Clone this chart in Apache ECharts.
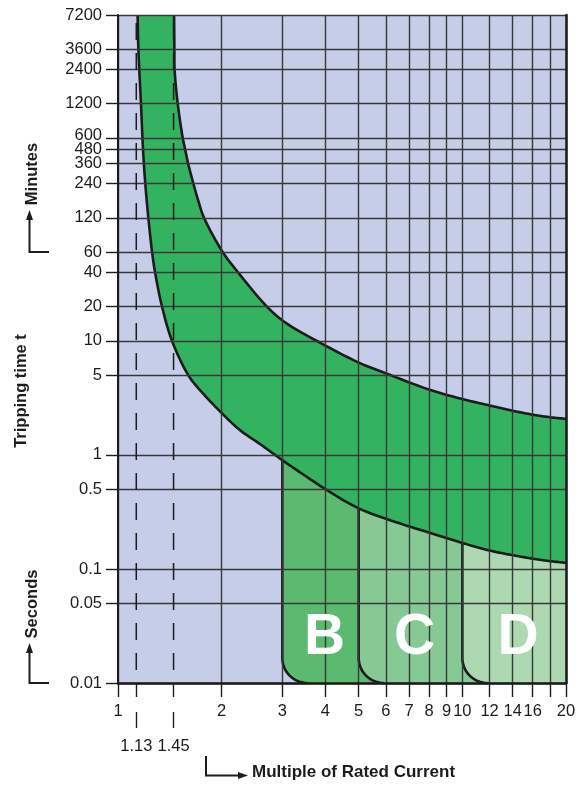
<!DOCTYPE html>
<html><head><meta charset="utf-8">
<script src="https://cdn.jsdelivr.net/npm/echarts@6/dist/echarts.min.js"></script>
<style>html,body{margin:0;padding:0;background:#fff}#c{width:578px;height:785px}</style>
</head><body><div id="c"></div>
<script>
// ---------- data ----------
const xTickValues = [1, 2, 3, 4, 5, 6, 7, 8, 9, 10, 12, 14, 16, 18, 20];
const xTickLabels = [1, 2, 3, 4, 5, 6, 7, 8, 9, 10, 12, 14, 16, 20];
const markerCurrents = [1.13, 1.45];
const yTickValues = [0.01, 0.05, 0.1, 0.5, 1, 5, 10, 20, 40, 60, 120, 240, 360, 480, 600, 1200, 2400, 3600, 7200];
const xMin = 1, xMax = 20, yMin = 0.01, yMax = 7200;

// lower / left boundary of the tripping band
const innerCurveX = [1.14, 1.146, 1.166, 1.182, 1.20, 1.225, 1.256, 1.281, 1.342, 1.435, 1.6, 1.73, 2.0, 2.26, 2.59, 3.0, 3.46, 4.05, 5.0, 6.6, 8.07, 10.0, 12, 14, 16, 18, 20];
const innerCurveY = [7200, 3600, 1200, 480, 240, 120, 60, 40, 20, 10, 5, 3.7, 2.33, 1.65, 1.24, 0.9, 0.67, 0.49, 0.34, 0.25, 0.207, 0.169, 0.145, 0.132, 0.123, 0.117, 0.113];
// upper / right boundary of the tripping band
const outerCurveX = [1.455, 1.458, 1.46, 1.491, 1.542, 1.566, 1.598, 1.655, 1.708, 1.778, 2.015, 2.23, 2.706, 3.04, 4.03, 5.06, 6.07, 8.07, 10.0, 12.08, 14, 16.2, 18, 20.0];
const outerCurveY = [7200, 3600, 2400, 1200, 600, 480, 360, 240, 172, 120, 60, 40, 20, 14.7, 9.0, 6.35, 5.12, 3.71, 3.09, 2.70, 2.44, 2.24, 2.14, 2.07];

const regionLabels = ['B', 'C', 'D'];
const regionStartX = [3, 5, 10];

// ---------- styles ----------
const FONT = '"Liberation Sans", Arial, Helvetica, sans-serif';
const INK = '#1c1c1c';
const GRID_LINE = '#383838';
const BG = '#c5cde8';
const BAND = '#33b35f';
const REGION_COLORS = ['#5bba70', '#86c994', '#acd9b2'];
const CORNER_R = 25;
const CURVE_W = 2.6;

const L = Math.log10;
const fmt = v => String(Math.round(Math.pow(10, v) * 1000) / 1000);

// centripetal Catmull-Rom rendering of a pixel polyline (smooth drawing only)
function smoothRender(P, n) {
  const out = [P[0]];
  const d = (a, b) => Math.max(Math.sqrt(Math.hypot(b[0] - a[0], b[1] - a[1])), 1e-4);
  for (let i = 0; i < P.length - 1; i++) {
    const p1 = P[i], p2 = P[i + 1];
    const p0 = i > 0 ? P[i - 1] : [2 * p1[0] - p2[0], 2 * p1[1] - p2[1]];
    const p3 = i + 2 < P.length ? P[i + 2] : [2 * p2[0] - p1[0], 2 * p2[1] - p1[1]];
    const t0 = 0, t1 = t0 + d(p0, p1), t2 = t1 + d(p1, p2), t3 = t2 + d(p2, p3);
    const lerp = (a, b, ta, tb, t) => [(tb - t) / (tb - ta) * a[0] + (t - ta) / (tb - ta) * b[0], (tb - t) / (tb - ta) * a[1] + (t - ta) / (tb - ta) * b[1]];
    for (let j = 1; j <= n; j++) {
      const t = t1 + (t2 - t1) * j / n;
      const A1 = lerp(p0, p1, t0, t1, t), A2 = lerp(p1, p2, t1, t2, t), A3 = lerp(p2, p3, t2, t3, t);
      const B1 = lerp(A1, A2, t0, t2, t), B2 = lerp(A2, A3, t1, t3, t);
      out.push(lerp(B1, B2, t1, t2, t));
    }
  }
  return out;
}
function curvePx(xs, ys, api) {
  return smoothRender(xs.map((x, i) => api.coord([L(x), L(ys[i])])), 10);
}
function fromPx(poly, px0) {
  for (let k = 0; k < poly.length - 1; k++) {
    const a = poly[k], b = poly[k + 1];
    if (a[0] <= px0 && b[0] >= px0) {
      const f = b[0] === a[0] ? 0 : (px0 - a[0]) / (b[0] - a[0]);
      return [[px0, a[1] + f * (b[1] - a[1])]].concat(poly.slice(k + 1));
    }
  }
  return poly.slice();
}

const chart = echarts.init(document.getElementById('c'), null, {renderer: 'canvas'});

const baseX = {
  type: 'value', min: L(xMin), max: L(xMax), position: 'bottom', z: 5,
  axisLine: {show: false, onZero: false}, splitLine: {show: false},
  axisTick: {show: false}, axisLabel: {show: false}
};
const labelStyle = {fontSize: 16.5, fontFamily: FONT, color: INK};

const option = {
  animation: false,
  grid: {left: 118, right: 12, top: 15, bottom: 102, show: true, backgroundColor: BG, borderWidth: 0, outerBoundsMode: 'none'},
  xAxis: [
    Object.assign({}, baseX, {
      axisLine: {show: true, onZero: false, lineStyle: {color: INK, width: 2.5}},
      axisTick: {show: true, length: 14, customValues: xTickValues.map(L), lineStyle: {color: INK, width: 1.4}},
      axisLabel: Object.assign({show: true, customValues: xTickLabels.map(L), formatter: fmt, margin: 20}, labelStyle),
      splitLine: {show: true, lineStyle: {color: GRID_LINE, width: 1.4}}
    }),
    Object.assign({}, baseX, {
      axisTick: {show: true, length: 14, customValues: markerCurrents.map(L), lineStyle: {color: INK, width: 1.4}}
    }),
    Object.assign({}, baseX, {
      offset: 29,
      axisTick: {show: true, length: 16, customValues: markerCurrents.map(L), lineStyle: {color: INK, width: 1.4}},
      axisLabel: Object.assign({show: true, customValues: markerCurrents.map(L), formatter: fmt, margin: 26}, labelStyle)
    })
  ],
  yAxis: [
    {
      type: 'value', min: L(yMin), max: L(yMax), position: 'left', z: 5,
      axisLine: {show: true, onZero: false, lineStyle: {color: INK, width: 2}},
      axisTick: {show: true, length: 12, customValues: yTickValues.map(L), lineStyle: {color: INK, width: 1.4}},
      axisLabel: Object.assign({show: true, customValues: yTickValues.map(L), margin: 16, hideOverlap: false,
        formatter: v => { const s = fmt(v); return s === '600' ? '{up|600}' : s; },
        rich: {up: Object.assign({padding: [0, 0, 6, 0]}, labelStyle)}}, labelStyle),
      splitLine: {show: true, lineStyle: {color: GRID_LINE, width: 1.4}}
    },
    {
      type: 'value', min: L(yMin), max: L(yMax), position: 'right', z: 6,
      axisLine: {show: true, onZero: false, lineStyle: {color: INK, width: 2.5}},
      axisTick: {show: false}, axisLabel: {show: false}, splitLine: {show: false}
    }
  ],
  series: [
    {
      name: 'band', type: 'custom', z: 2, xAxisIndex: 0, yAxisIndex: 0,
      data: [[L(innerCurveX[0]), L(innerCurveY[0])]],
      renderItem: function (params, api) {
        const a = curvePx(innerCurveX, innerCurveY, api);
        const b = curvePx(outerCurveX, outerCurveY, api).reverse();
        return {type: 'polygon', shape: {points: a.concat(b)}, style: {fill: BAND}};
      }
    },
    {
      name: 'regions', type: 'custom', z: 3, xAxisIndex: 0, yAxisIndex: 0,
      data: regionStartX.map((x, i) => [L(x), L(yMin), i]),
      renderItem: function (params, api) {
        const i = params.dataIndex;
        const x0 = regionStartX[i];
        const bl = api.coord([L(x0), L(yMin)]);
        const br = api.coord([L(xMax), L(yMin)]);
        const top = fromPx(curvePx(innerCurveX, innerCurveY, api), bl[0]);
        const edge = [top[0], [bl[0], bl[1] - CORNER_R]];
        const cx = bl[0] + CORNER_R, cy = bl[1] - CORNER_R;
        for (let s = 1; s <= 12; s++) {
          const t = (Math.PI / 2) * s / 12;
          edge.push([cx - CORNER_R * Math.cos(t), cy + CORNER_R * Math.sin(t)]);
        }
        const fillPts = edge.concat([br]).concat(top.slice().reverse());
        return {type: 'group', children: [
          {type: 'polygon', shape: {points: fillPts}, style: {fill: REGION_COLORS[i]}},
          {type: 'polyline', shape: {points: edge}, style: {fill: null, stroke: INK, lineWidth: CURVE_W}}
        ]};
      }
    },
    {
      name: 'curves', type: 'custom', z: 4, xAxisIndex: 0, yAxisIndex: 0,
      data: [[L(innerCurveX[0]), L(innerCurveY[0])]],
      renderItem: function (params, api) {
        return {type: 'group', children: [
          {type: 'polyline', shape: {points: curvePx(innerCurveX, innerCurveY, api)}, style: {fill: null, stroke: INK, lineWidth: CURVE_W, lineJoin: 'round'}},
          {type: 'polyline', shape: {points: curvePx(outerCurveX, outerCurveY, api)}, style: {fill: null, stroke: INK, lineWidth: CURVE_W, lineJoin: 'round'}}
        ]};
      }
    },
    {
      name: 'markers', type: 'custom', z: 6, xAxisIndex: 0, yAxisIndex: 0,
      data: markerCurrents.map(x => [L(x), L(yMin)]),
      renderItem: function (params, api) {
        const x = markerCurrents[params.dataIndex];
        const p0 = api.coord([L(x), L(yMin)]);
        const p1 = api.coord([L(x), L(yMax)]);
        return {type: 'line', shape: {x1: p0[0], y1: p0[1], x2: p1[0], y2: p1[1]},
          style: {stroke: INK, lineWidth: 1.5, lineDash: [17, 13], lineDashOffset: 17}};
      }
    },
    {
      name: 'regionLabels', type: 'custom', z: 10, xAxisIndex: 0, yAxisIndex: 0,
      data: regionStartX.map((x, i) => [L(x), L(yMin), i]),
      renderItem: function (params, api) {
        const i = params.dataIndex;
        const x0 = regionStartX[i];
        const x1 = i + 1 < regionStartX.length ? regionStartX[i + 1] : xMax;
        const a = api.coord([L(x0), L(yMin)]);
        const b = api.coord([L(x1), L(yMin)]);
        return {type: 'text', x: (a[0] + b[0]) / 2 + 4, y: a[1] - 45,
          style: {text: regionLabels[i], fill: '#ffffff', fontSize: 57, fontWeight: 'bold', fontFamily: FONT,
            align: 'center', verticalAlign: 'middle'}};
      }
    }
  ],
  graphic: [
    {type: 'text', x: 21, y: 391, rotation: Math.PI / 2, z: 10,
      style: {text: 'Tripping time t', fill: INK, fontSize: 16.5, fontWeight: 'bold', fontFamily: FONT, align: 'center', verticalAlign: 'middle'}},
    {type: 'text', x: 32, y: 174, rotation: Math.PI / 2, z: 10,
      style: {text: 'Minutes', fill: INK, fontSize: 16.5, fontWeight: 'bold', fontFamily: FONT, align: 'center', verticalAlign: 'middle'}},
    {type: 'text', x: 32.5, y: 604, rotation: Math.PI / 2, z: 10,
      style: {text: 'Seconds', fill: INK, fontSize: 16.5, fontWeight: 'bold', fontFamily: FONT, align: 'center', verticalAlign: 'middle'}},
    {type: 'text', x: 252, y: 772, z: 10,
      style: {text: 'Multiple of Rated Current', fill: INK, fontSize: 17, fontWeight: 'bold', fontFamily: FONT, align: 'left', verticalAlign: 'middle'}},
    {type: 'polyline', z: 10, shape: {points: [[49, 252], [29.5, 252], [29.5, 218]]}, style: {stroke: INK, lineWidth: 2, fill: null}},
    {type: 'polygon', z: 10, shape: {points: [[29.5, 210], [26, 220], [33, 220]]}, style: {fill: INK}},
    {type: 'polyline', z: 10, shape: {points: [[49, 683], [29.5, 683], [29.5, 651]]}, style: {stroke: INK, lineWidth: 2, fill: null}},
    {type: 'polygon', z: 10, shape: {points: [[29.5, 643], [26, 653], [33, 653]]}, style: {fill: INK}},
    {type: 'polyline', z: 10, shape: {points: [[206, 756], [206, 775.5], [240, 775.5]]}, style: {stroke: INK, lineWidth: 2, fill: null}},
    {type: 'polygon', z: 10, shape: {points: [[248, 775.5], [238, 772], [238, 779]]}, style: {fill: INK}}
  ]
};
chart.setOption(option);
</script>
</body></html>
